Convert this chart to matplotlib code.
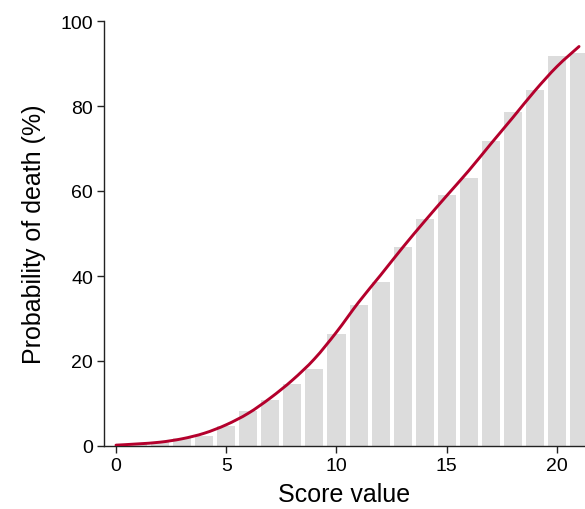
import matplotlib
matplotlib.use("Agg")
import matplotlib.pyplot as plt
from matplotlib.path import Path
from matplotlib.patches import PathPatch
import numpy as np

plt.rcParams['font.family'] = ['Liberation Sans', 'DejaVu Sans']

scores = list(range(22))
bar_values = [0.0, 0.4, 1.0, 1.8, 2.4, 4.8, 8.2, 10.9, 14.6, 18.2, 26.4, 33.1,
              38.6, 46.8, 53.4, 59.1, 63.0, 71.8, 78.7, 83.7, 91.7, 92.5]
curve_values = [0.2, 0.5, 0.9, 1.7, 3.0, 5.0, 7.7, 11.3, 15.5, 20.5, 26.8, 33.8,
                40.2, 46.7, 52.9, 58.9, 64.8, 71.1, 77.3, 83.6, 89.3, 94.0]
xticks = [0, 5, 10, 15, 20]
yticks = [0, 20, 40, 60, 80, 100]

fig = plt.figure(figsize=(5.85, 5.10), dpi=100)
ax = fig.add_axes([104/585, 1-447/510, 1-104/585, (447-22)/510])

ax.bar(scores, bar_values, width=0.82, color='#dcdcdc', zorder=1)

# smooth curve through the data points (Catmull-Rom as cubic Bezier path)
pts = np.column_stack([scores, curve_values]).astype(float)
verts = [tuple(pts[0])]
codes = [Path.MOVETO]
n = len(pts)
for i in range(n - 1):
    p0 = pts[i - 1] if i > 0 else pts[i]
    p1 = pts[i]
    p2 = pts[i + 1]
    p3 = pts[i + 2] if i + 2 < n else pts[i + 1]
    c1 = p1 + (p2 - p0) / 6.0
    c2 = p2 - (p3 - p1) / 6.0
    verts += [tuple(c1), tuple(c2), tuple(p2)]
    codes += [Path.CURVE4, Path.CURVE4, Path.CURVE4]
ax.add_patch(PathPatch(Path(verts, codes), facecolor='none', edgecolor='#b4002c',
                       lw=2.1, zorder=3, capstyle='round', joinstyle='round'))

ax.set_xlim(-0.544, 21.27)
ax.set_ylim(0, 100)
ax.set_xticks(xticks)
ax.set_yticks(yticks)
ax.tick_params(axis='both', direction='out', length=5, width=1, labelsize=14,
               colors='#222222', labelcolor='black', pad=3)
for s in ['top', 'right']:
    ax.spines[s].set_visible(False)
for s in ['left', 'bottom']:
    ax.spines[s].set_color('#222222')
    ax.spines[s].set_linewidth(1)
ax.set_xlabel('Score value', fontsize=18, labelpad=6)
ax.set_ylabel('Probability of death (%)', fontsize=18, labelpad=10)

fig.savefig('out.png', dpi=100)
